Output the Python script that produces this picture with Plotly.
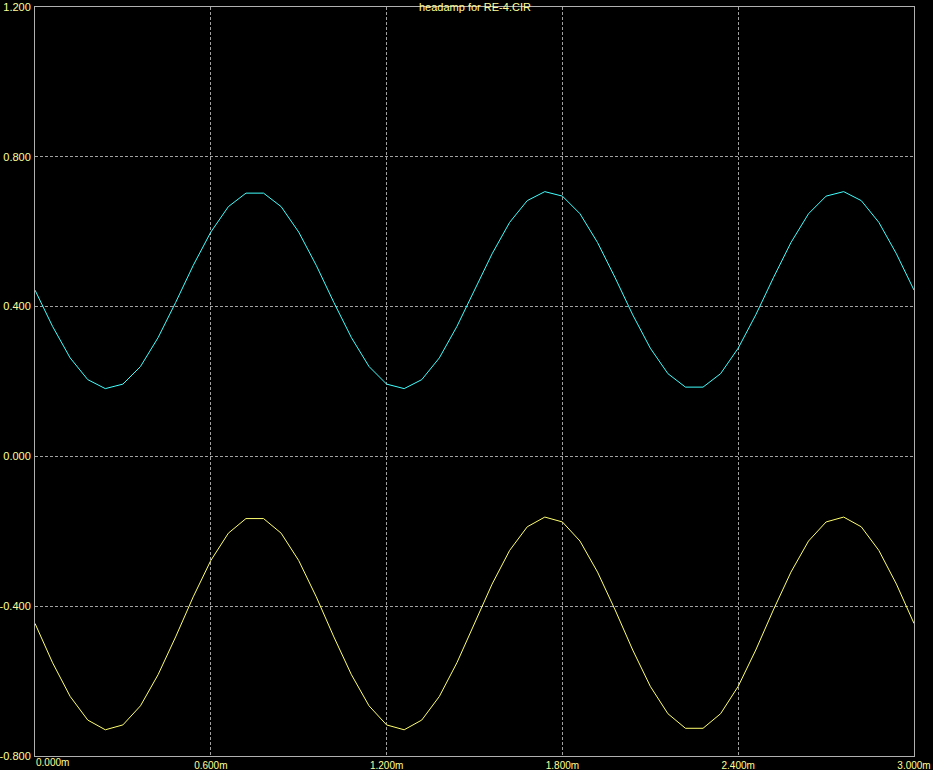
import plotly.graph_objects as go

# time in ms
time_ms = [0.00, 0.06, 0.12, 0.18, 0.24, 0.30, 0.36, 0.42, 0.48, 0.54,
           0.60, 0.66, 0.72, 0.78, 0.84, 0.90, 0.96, 1.02, 1.08, 1.14,
           1.20, 1.26, 1.32, 1.38, 1.44, 1.50, 1.56, 1.62, 1.68, 1.74,
           1.80, 1.86, 1.92, 1.98, 2.04, 2.10, 2.16, 2.22, 2.28, 2.34,
           2.40, 2.46, 2.52, 2.58, 2.64, 2.70, 2.76, 2.82, 2.88, 2.94, 3.00]

cyan_vals = [0.444, 0.347, 0.263, 0.205, 0.181, 0.193, 0.240, 0.317, 0.411, 0.510,
             0.599, 0.667, 0.703, 0.703, 0.667, 0.599, 0.510, 0.411, 0.317, 0.240,
             0.193, 0.181, 0.205, 0.263, 0.347, 0.444, 0.541, 0.625, 0.683, 0.707,
             0.695, 0.648, 0.571, 0.477, 0.378, 0.289, 0.221, 0.185, 0.185, 0.221,
             0.289, 0.378, 0.477, 0.571, 0.648, 0.695, 0.707, 0.683, 0.625, 0.541, 0.444]

yellow_vals = [-0.446, -0.551, -0.641, -0.704, -0.730, -0.717, -0.666, -0.583, -0.482, -0.375,
               -0.278, -0.205, -0.166, -0.166, -0.205, -0.278, -0.375, -0.482, -0.583, -0.666,
               -0.717, -0.730, -0.704, -0.641, -0.551, -0.446, -0.341, -0.251, -0.188, -0.162,
               -0.175, -0.226, -0.309, -0.410, -0.517, -0.614, -0.687, -0.726, -0.726, -0.687,
               -0.614, -0.517, -0.410, -0.309, -0.226, -0.175, -0.162, -0.188, -0.251, -0.341, -0.446]

x_tick_vals = [0.0, 0.6, 1.2, 1.8, 2.4, 3.0]
x_tick_text = ["0.000m", "0.600m", "1.200m", "1.800m", "2.400m", "3.000m"]
y_tick_vals = [-0.8, -0.4, 0.0, 0.4, 0.8, 1.2]
y_tick_text = ["-0.800", "-0.400", "0.000", "0.400", "0.800", "1.200"]
title_text = "headamp for RE-4.CIR"

label_color = "#ffff99"
font_family = "Liberation Sans, Arial, sans-serif"

fig = go.Figure()
fig.add_trace(go.Scatter(x=time_ms, y=cyan_vals, mode="lines",
                         line=dict(color="#40ffff", width=1), hoverinfo="skip"))
fig.add_trace(go.Scatter(x=time_ms, y=yellow_vals, mode="lines",
                         line=dict(color="#ffff70", width=1), hoverinfo="skip"))

# x tick labels: first one is left-aligned at the axis start
x_text_shown = [""] + x_tick_text[1:]

fig.update_layout(
    width=933, height=770,
    paper_bgcolor="black", plot_bgcolor="black",
    margin=dict(l=35, r=19, t=7, b=14),
    showlegend=False,
    font=dict(family=font_family, size=11, color=label_color),
    xaxis=dict(range=[0, 3.0], tickmode="array", tickvals=x_tick_vals, ticktext=x_text_shown,
               showgrid=True, gridcolor="#a0a0a0", griddash="3px,2px", gridwidth=1,
               zeroline=False, showline=True, linecolor="#b0b0b0", linewidth=1, mirror=True,
               ticks="", ticklabelstandoff=0, automargin=False,
               tickfont=dict(family=font_family, size=10, color=label_color)),
    yaxis=dict(range=[-0.8, 1.2], tickmode="array", tickvals=y_tick_vals, ticktext=y_tick_text,
               showgrid=True, gridcolor="#a0a0a0", griddash="3px,2px", gridwidth=1,
               zeroline=False, showline=True, linecolor="#b0b0b0", linewidth=1, mirror=True,
               ticks="", ticklabelstandoff=1, automargin=False,
               tickfont=dict(family=font_family, size=11, color=label_color)),
    annotations=[
        dict(x=0, y=-0.8, xref="x", yref="y", text=x_tick_text[0], showarrow=False,
             xanchor="left", yanchor="top", yshift=1, xshift=-1,
             font=dict(family=font_family, size=10, color=label_color)),
        dict(x=0.5, y=1.0, xref="paper", yref="paper", text=title_text, showarrow=False,
             xanchor="center", yanchor="top", yshift=7, borderpad=0,
             font=dict(family=font_family, size=11, color=label_color)),
    ],
)

fig.write_html("out.html", config={"displayModeBar": False},
               post_script="document.body.style.margin='0px';document.body.style.background='black';")
